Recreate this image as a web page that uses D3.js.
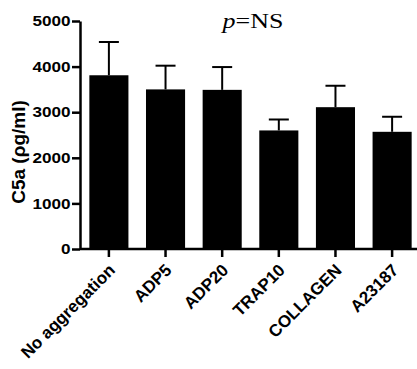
<!DOCTYPE html>
<html>
<head>
<meta charset="utf-8">
<script src="https://cdn.jsdelivr.net/npm/d3@7"></script>
<style>
  html, body { margin: 0; padding: 0; background: #fff; }
  svg { display: block; }
</style>
</head>
<body>
<svg id="chart" width="417" height="369"></svg>
<script>
// C5a concentration by platelet agonist (mean + upper SEM)
const categories = ["No aggregation", "ADP5", "ADP20", "TRAP10", "COLLAGEN", "A23187"];
const means = [3810, 3500, 3490, 2600, 3110, 2570];
const errors = [730, 520, 500, 240, 470, 330];
const yTicks = [0, 1000, 2000, 3000, 4000, 5000];

const svg = d3.select("#chart");
const plotLeft = 80, plotBottom = 249, plotTop = 21;
const sans = "Liberation Sans, Arial, sans-serif";

const x = d3.scaleBand()
  .domain(categories)
  .range([plotLeft, 421])
  .paddingInner(0.31)
  .paddingOuter(0.165);

const y = d3.scaleLinear().domain([0, 5000]).range([plotBottom, plotTop]);

// bars
svg.append("g").selectAll("rect")
  .data(categories)
  .join("rect")
  .attr("x", d => x(d))
  .attr("width", x.bandwidth())
  .attr("y", (d, i) => y(means[i]))
  .attr("height", (d, i) => y(0) - y(means[i]))
  .attr("fill", "#000");

// upper error bars
const eb = svg.append("g").attr("stroke", "#000").attr("stroke-width", 2);
categories.forEach((c, i) => {
  const cx = x(c) + x.bandwidth() / 2;
  eb.append("line").attr("x1", cx).attr("x2", cx)
    .attr("y1", y(means[i])).attr("y2", y(means[i] + errors[i]));
  eb.append("line").attr("x1", cx - 10).attr("x2", cx + 10)
    .attr("y1", y(means[i] + errors[i])).attr("y2", y(means[i] + errors[i]));
});

// y axis
const yAxis = svg.append("g")
  .attr("transform", `translate(${plotLeft},0)`)
  .call(d3.axisLeft(y).tickValues(yTicks).tickFormat(d3.format("d"))
    .tickSize(8).tickSizeOuter(0).tickPadding(0));
yAxis.select(".domain").attr("stroke-width", 2.5);
yAxis.selectAll(".tick line").attr("stroke-width", 2.5);
yAxis.selectAll("text")
  .attr("font-family", sans)
  .attr("font-weight", "bold")
  .attr("font-size", 14.5)
  .attr("fill", "#000")
  .attr("transform", "translate(-10,0) scale(1.18,1) translate(8.5,0)");

// x axis
const xAxis = svg.append("g")
  .attr("transform", `translate(0,${plotBottom})`)
  .call(d3.axisBottom(x).tickSize(8).tickSizeOuter(0).tickPadding(4));
xAxis.select(".domain").attr("d", `M${plotLeft},0H417`).attr("stroke-width", 2.5);
xAxis.selectAll(".tick line").attr("stroke-width", 2.5);
xAxis.selectAll("text")
  .attr("font-family", sans)
  .attr("font-weight", "bold")
  .attr("font-size", 17)
  .attr("fill", "#000")
  .attr("text-anchor", "end")
  .attr("y", 0)
  .attr("dy", "0.35em")
  .attr("transform", "translate(3,18) rotate(-45)");

// y axis title
svg.append("text")
  .attr("transform", `translate(25,152) rotate(-90)`)
  .attr("text-anchor", "middle")
  .attr("font-family", sans)
  .attr("font-weight", "bold")
  .attr("font-size", 19)
  .text("C5a (ρg/ml)");

// significance note
const note = svg.append("text")
  .attr("transform", "translate(253,28) scale(1.18,1)")
  .attr("text-anchor", "middle")
  .attr("font-family", "Liberation Serif, Times New Roman, serif")
  .attr("font-size", 22);
note.append("tspan").attr("font-style", "italic").text("p");
note.append("tspan").text("=NS");
</script>
</body>
</html>
